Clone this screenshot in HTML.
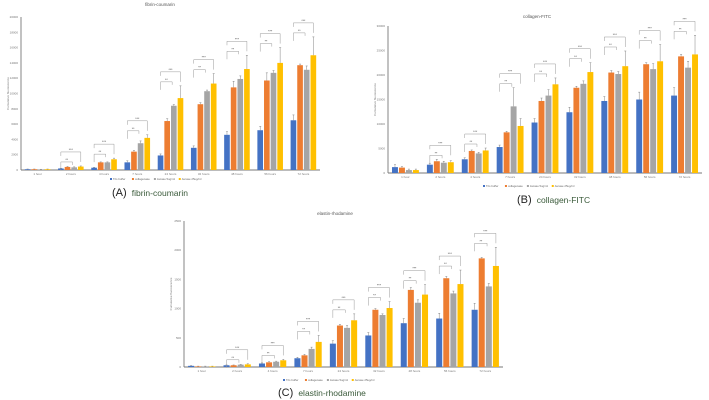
<!DOCTYPE html>
<html><head><meta charset="utf-8">
<style>
html,body{margin:0;padding:0;background:#fff;width:709px;height:400px;overflow:hidden;}
svg{display:block;font-family:"Liberation Sans",sans-serif;}
</style></head>
<body>
<svg id="fig" width="709" height="400" viewBox="0 0 709 400"></svg>
<script>
const categories = ["1 hour","2 hours","4 hours","7 hours","24 hours","32 hours","48 hours","56 hours","72 hours"];
const seriesNames = ["Tris buffer","collagenase","Aurase 5ug/ml","Aurase 25ug/ml"];
const colors = ["#4472C4","#ED7D31","#A5A5A5","#FFC000"];

const fibTris = [100,200,300,1000,1900,2900,4600,5200,6500];
const fibColl = [100,400,1000,2400,6400,8600,10800,11700,13700];
const fibA5 = [80,350,1000,3500,8400,10300,11900,12700,13100];
const fibA25 = [100,450,1400,4200,9400,11300,13200,14000,15000];
const fibErr = [[30,30,60,200,200,250,400,500,700],[30,60,60,150,300,200,800,1000,150],[20,60,60,300,150,150,400,300,500],[30,80,150,400,1600,1300,1800,2000,2400]];
const fibTicks = [0,2000,4000,6000,8000,10000,12000,14000,16000,18000,20000];

const colTris = [1200,1700,2800,5300,10300,12400,14700,15000,15800];
const colColl = [1100,2400,4500,8300,14700,17400,20500,22200,23800];
const colA5 = [600,2100,4000,13600,15800,18200,20200,21200,21500];
const colA25 = [600,2200,4600,9600,18100,20600,21800,22800,24200];
const colErr = [[500,300,300,400,800,1000,900,1500,1600],[200,400,200,200,600,300,400,300,400],[200,300,200,3800,1200,600,500,1100,1300],[200,300,500,1500,1300,1900,3100,3400,3900]];
const colTicks = [0,5000,10000,15000,20000,25000,30000];

const elaTris = [20,30,60,150,400,540,750,830,980];
const elaColl = [10,30,80,200,710,980,1320,1520,1860];
const elaA5 = [10,40,90,310,670,890,1100,1260,1380];
const elaA25 = [10,45,115,430,800,1010,1240,1420,1730];
const elaErr = [[5,5,10,15,50,50,80,90,110],[5,5,10,15,20,20,40,30,15],[5,5,10,30,40,20,50,40,50],[5,10,15,110,110,110,170,240,320]];
const elaTicks = [0,500,1000,1500,2000,2500];

const NS="http://www.w3.org/2000/svg";
const svg=document.getElementById("fig");
function mk(tag,attrs,parent){const e=document.createElementNS(NS,tag);for(const k in attrs)e.setAttribute(k,attrs[k]);(parent||svg).appendChild(e);return e;}

function panel(cfg){
  const g=mk("g",{});
  
  
  const ymax=cfg.ticks[cfg.ticks.length-1];
  const yS=v=>cfg.y0-(v/ymax)*(cfg.y0-cfg.yTop);
  const band=(cfg.x1-cfg.x0)/categories.length;
  const xC=i=>cfg.x0+band*(i+0.5);
  const bw=band*0.17;
  const t=mk("text",{x:cfg.tx,y:cfg.ty,"font-size":4.5,fill:"#555","text-anchor":"middle"},g);t.textContent=cfg.title;
  
  
  const ya=mk("line",{x1:cfg.x0,y1:cfg.yTop,x2:cfg.x0,y2:cfg.y0,stroke:"#777","stroke-width":0.9},g);
  
  
  const xa=mk("line",{x1:cfg.x0,y1:cfg.y0,x2:cfg.x1,y2:cfg.y0,stroke:"#777","stroke-width":0.9},g);
  
  
  cfg.ticks.forEach(v=>{
    const tl=mk("text",{x:cfg.x0-3,y:yS(v)+1,"font-size":3,fill:"#777","text-anchor":"end"},g);tl.textContent=v;
    
    
  });
  const yt=mk("text",{x:0,y:0,"font-size":3,fill:"#777","text-anchor":"middle",transform:`translate(${cfg.x0-12},${(cfg.y0+cfg.yTop)/2}) rotate(-90)`},g);
  yt.textContent="Cumulative fluorescence";
  
  
  categories.forEach((c,i)=>{
    const cl=mk("text",{x:xC(i),y:cfg.y0+5,"font-size":3,fill:"#777","text-anchor":"middle"},g);cl.textContent=c;
    
    
    let top=0;
    cfg.series.forEach((s,k)=>{
      const x=xC(i)+(k-2)*(bw+band*0.03)+band*0.015;
      const v=s[i], e=cfg.err[k][i];
      const r=mk("rect",{x:x,y:yS(v),width:bw,height:cfg.y0-yS(v),fill:colors[k]},g);
      
      
      const ex=x+bw/2;
      const el=mk("path",{d:`M${ex},${yS(v)}V${yS(v+e)}M${ex-1},${yS(v+e)}H${ex+1}`,stroke:"#666","stroke-width":0.4,fill:"none"},g);
      
      
      top=Math.max(top,v+e);
    });
    if(i>0){
      [[0.3,-4],[0.1,-14]].forEach(([w,off],j)=>{
        const xl=xC(i)-band*0.3, xr=xC(i)+band*(j?0.3:0.05), yb=yS(top)+off;
        if(j===0){
          const br=mk("path",{d:`M${xl},${yb+8}V${yb}H${xr}V${yb+3}`,stroke:"#999","stroke-width":0.5,fill:"none"},g);
          
          
        } else {
          const br=mk("path",{d:`M${xl},${yb+4}V${yb}H${xr}V${yb+10}`,stroke:"#999","stroke-width":0.5,fill:"none"},g);
          
          
        }
        const st=mk("text",{x:(xl+xr)/2,y:yb-1,"font-size":3.5,fill:"#555","text-anchor":"middle"},g);st.textContent=j?"***":"**";
        
        
      });
    }
  });
  let lx=cfg.lx;
  seriesNames.forEach((n,k)=>{
    const sq=mk("rect",{x:lx,y:cfg.ly-2,width:2,height:2,fill:colors[k]},g);
    
    
    const lt=mk("text",{x:lx+3,y:cfg.ly,"font-size":2.8,fill:"#666"},g);lt.textContent=n;
    
    
    lx+=n.length*1.45+6;
  });
  const cap=mk("text",{x:cfg.cx,y:cfg.cy,"font-size":11,fill:"#222"},g);
  cap.textContent=cfg.letter+" ";
  const cs=mk("tspan",{"font-size":8.5,fill:"#3a5a3a",dx:2},cap);cs.textContent=cfg.title;
  
  
}

panel({id:"fibrin",title:"fibrin-coumarin",letter:"(A)",x0:21,x1:320,y0:170,yTop:17,tx:160,ty:6,lx:110,ly:180,cx:112,cy:196,
  series:[fibTris,fibColl,fibA5,fibA25],err:fibErr,ticks:fibTicks});
panel({id:"collagen",title:"collagen-FITC",letter:"(B)",x0:388,x1:702,y0:173,yTop:26,tx:537,ty:18,lx:483,ly:187,cx:517,cy:203,
  series:[colTris,colColl,colA5,colA25],err:colErr,ticks:colTicks});
panel({id:"elastin",title:"elastin-rhodamine",letter:"(C)",x0:184,x1:503,y0:367,yTop:221,tx:335,ty:215,lx:283,ly:381,cx:278,cy:396,
  series:[elaTris,elaColl,elaA5,elaA25],err:elaErr,ticks:elaTicks});
</script>
</body></html>
